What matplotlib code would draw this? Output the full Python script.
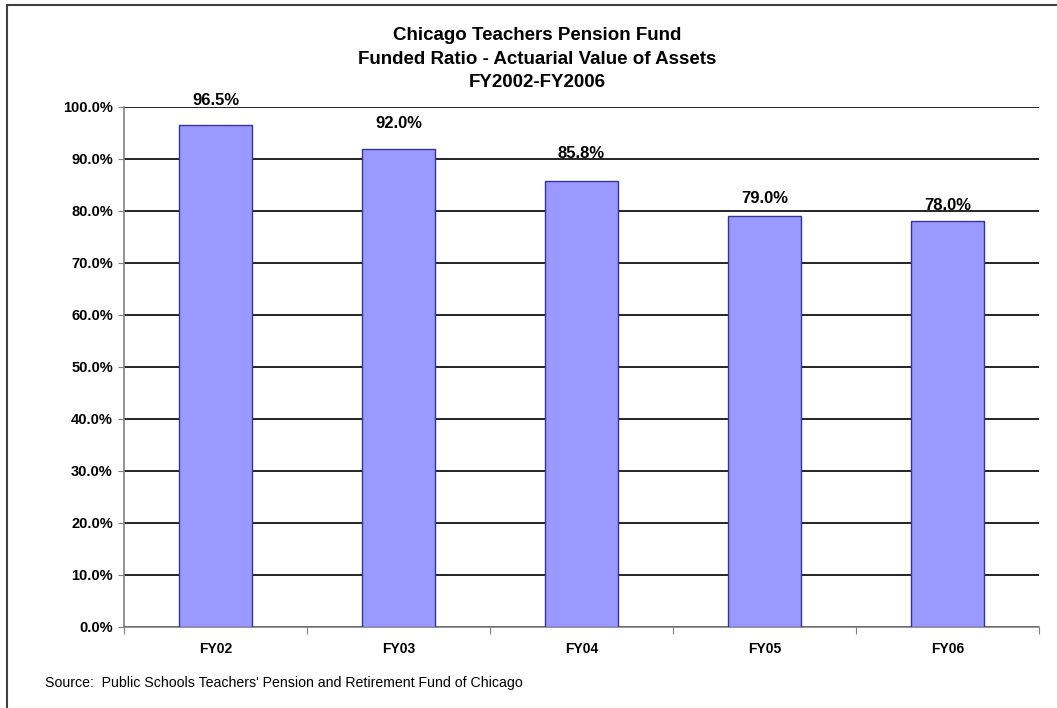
import matplotlib
matplotlib.use('Agg')
import matplotlib.pyplot as plt
from matplotlib.patches import Rectangle
from matplotlib.ticker import MultipleLocator, FuncFormatter

# chart data
years = ['FY02', 'FY03', 'FY04', 'FY05', 'FY06']
funded = [96.5, 92.0, 85.8, 79.0, 78.0]

title_lines = ['Chicago Teachers Pension Fund',
               'Funded Ratio - Actuarial Value of Assets',
               'FY2002-FY2006']
source = "Source:  Public Schools Teachers' Pension and Retirement Fund of Chicago"

# label gap above each bar (points) - the original labels were nudged by hand
label_gap = [14.5, 14.5, 16.5, 9.5, 8.5]

plt.rcParams['font.family'] = ['Liberation Sans', 'DejaVu Sans']

W, H = 1057, 708
fig = plt.figure(figsize=(W / 100, H / 100), dpi=100)

# outer frame (runs off the right/bottom edge like the original)
fig.patches.append(Rectangle((7 / W, -0.05), 1.2, 1 - 5 / H + 0.05,
                             transform=fig.transFigure, fill=False,
                             edgecolor='#404040', linewidth=1.5))

ax = fig.add_axes([124 / W, 1 - 627 / H, (1039 - 124) / W, (627 - 107) / H])

x = list(range(len(years)))
ax.bar(x, funded, width=0.4, color='#9999FF', edgecolor='#333399',
       linewidth=1.0, zorder=3)

ax.set_xlim(-0.5, len(years) - 0.5)
ax.set_ylim(0, 100)
ax.yaxis.set_major_locator(MultipleLocator(10))
ax.yaxis.set_major_formatter(FuncFormatter(lambda v, p: '%.1f%%' % v))
ax.yaxis.grid(True, color='black', linewidth=1.2, zorder=1)
ax.set_axisbelow(True)

# category ticks sit on the boundaries between bars
ax.set_xticks([i + 0.5 for i in range(-1, len(years))], minor=False)
ax.set_xticklabels([])
ax.set_xticks(x, minor=True)
ax.set_xticklabels(years, minor=True, fontsize=10, fontweight='bold')
ax.tick_params(axis='x', which='minor', length=0, pad=11)
ax.tick_params(axis='x', which='major', length=5, color='#808080', direction='out')
ax.tick_params(axis='y', length=4, color='#808080', labelsize=10.5, pad=4)
for lbl in ax.get_yticklabels():
    lbl.set_fontweight('bold')

for side in ['top', 'right']:
    ax.spines[side].set_visible(False)
ax.spines['left'].set_color('#808080')
ax.spines['bottom'].set_color('#808080')
ax.spines['left'].set_linewidth(1.2)
ax.spines['bottom'].set_linewidth(1.2)

# value labels
for xi, v, g in zip(x, funded, label_gap):
    ax.annotate('%.1f%%' % v, (xi, v), xytext=(0, g), textcoords='offset points',
                ha='center', va='baseline', fontsize=12, fontweight='bold', zorder=4)

# title, three centred lines
for i, line in enumerate(title_lines):
    fig.text(537 / W, 1 - (40 + 23.5 * i) / H, line, ha='center', va='baseline',
             fontsize=13.5, fontweight='bold')

fig.text(45 / W, 1 - 687 / H, source, ha='left', va='baseline', fontsize=10.2)

fig.savefig('out.png', dpi=100)
